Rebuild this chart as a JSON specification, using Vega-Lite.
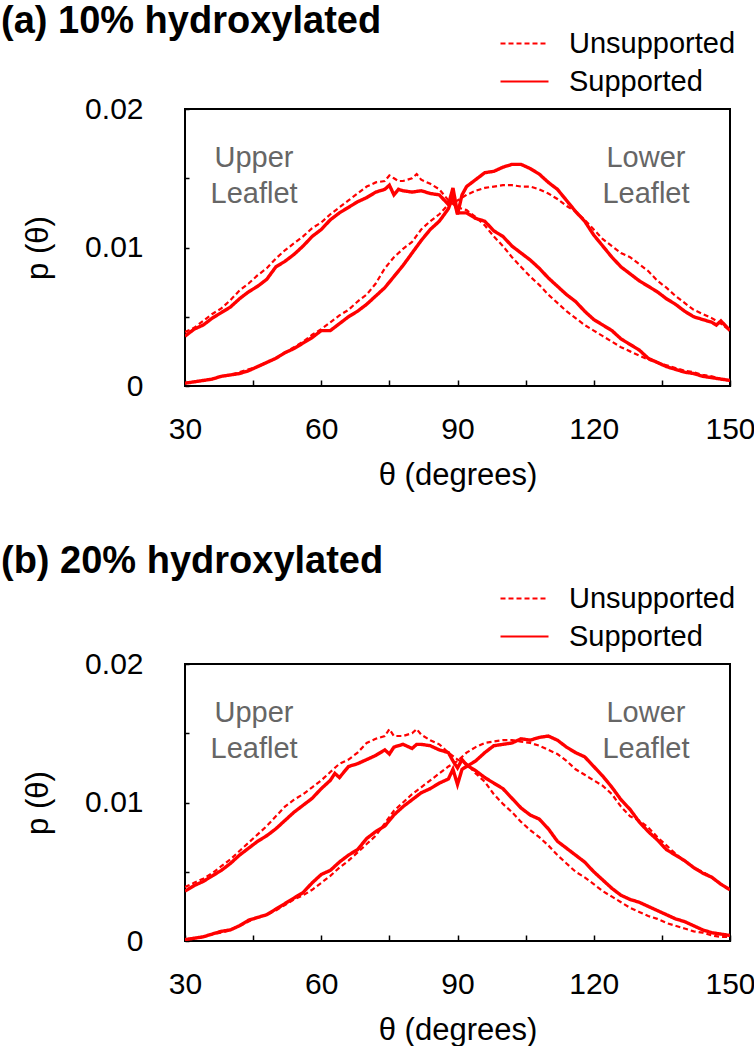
{
  "$schema": "https://vega.github.io/schema/vega-lite/v6.json",
  "padding": {"left": 0, "top": 2, "right": 0, "bottom": 0},
  "spacing": 51,
  "resolve": {"legend": {"strokeDash": "independent"}},
  "config": {
    "font": "Liberation Sans",
    "view": {"stroke": "#000", "strokeWidth": 2},
    "axis": {"domain": false, "grid": false, "labelFontSize": 30, "titleFontSize": 31, "titleFontWeight": "normal", "labelColor": "#000", "titleColor": "#000", "tickColor": "#000", "tickWidth": 1.5, "labelFont": "Liberation Sans", "titleFont": "Liberation Sans"},
    "legend": {"labelFont": "Liberation Sans", "labelColor": "#000"},
    "title": {"font": "Liberation Sans", "color": "#000"}
  },
  "datasets": {
    "a": [
      {"l":"U","s":"Supported","t":30,"p":0.0036},{"l":"U","s":"Supported","t":32,"p":0.0041},{"l":"U","s":"Supported","t":34,"p":0.0044},{"l":"U","s":"Supported","t":36,"p":0.0049},{"l":"U","s":"Supported","t":38,"p":0.0053},{"l":"U","s":"Supported","t":40,"p":0.0057},{"l":"U","s":"Supported","t":42,"p":0.0063},{"l":"U","s":"Supported","t":44,"p":0.0068},{"l":"U","s":"Supported","t":46,"p":0.0072},{"l":"U","s":"Supported","t":48,"p":0.0077},{"l":"U","s":"Supported","t":50,"p":0.0086},{"l":"U","s":"Supported","t":52,"p":0.0090},{"l":"U","s":"Supported","t":54,"p":0.0095},{"l":"U","s":"Supported","t":56,"p":0.0101},{"l":"U","s":"Supported","t":58,"p":0.0108},{"l":"U","s":"Supported","t":60,"p":0.0113},{"l":"U","s":"Supported","t":62,"p":0.0120},{"l":"U","s":"Supported","t":64,"p":0.0125},{"l":"U","s":"Supported","t":66,"p":0.0129},{"l":"U","s":"Supported","t":68,"p":0.0133},{"l":"U","s":"Supported","t":70,"p":0.0136},{"l":"U","s":"Supported","t":72,"p":0.0140},{"l":"U","s":"Supported","t":74,"p":0.0142},{"l":"U","s":"Supported","t":75,"p":0.0145},{"l":"U","s":"Supported","t":76,"p":0.0138},{"l":"U","s":"Supported","t":77,"p":0.0142},{"l":"U","s":"Supported","t":78,"p":0.0141},{"l":"U","s":"Supported","t":80,"p":0.0140},{"l":"U","s":"Supported","t":82,"p":0.0141},{"l":"U","s":"Supported","t":84,"p":0.0139},{"l":"U","s":"Supported","t":86,"p":0.0138},{"l":"U","s":"Supported","t":88,"p":0.0131},{"l":"U","s":"Supported","t":89,"p":0.0143},{"l":"U","s":"Supported","t":90,"p":0.0125},{"l":"U","s":"Supported","t":92,"p":0.0125},{"l":"U","s":"Supported","t":94,"p":0.0121},{"l":"U","s":"Supported","t":96,"p":0.0119},{"l":"U","s":"Supported","t":98,"p":0.0112},{"l":"U","s":"Supported","t":100,"p":0.0108},{"l":"U","s":"Supported","t":102,"p":0.0101},{"l":"U","s":"Supported","t":104,"p":0.0096},{"l":"U","s":"Supported","t":106,"p":0.0091},{"l":"U","s":"Supported","t":108,"p":0.0085},{"l":"U","s":"Supported","t":110,"p":0.0078},{"l":"U","s":"Supported","t":112,"p":0.0072},{"l":"U","s":"Supported","t":114,"p":0.0066},{"l":"U","s":"Supported","t":116,"p":0.0061},{"l":"U","s":"Supported","t":118,"p":0.0054},{"l":"U","s":"Supported","t":120,"p":0.0048},{"l":"U","s":"Supported","t":122,"p":0.0044},{"l":"U","s":"Supported","t":124,"p":0.0040},{"l":"U","s":"Supported","t":126,"p":0.0034},{"l":"U","s":"Supported","t":128,"p":0.0030},{"l":"U","s":"Supported","t":130,"p":0.0026},{"l":"U","s":"Supported","t":132,"p":0.0020},{"l":"U","s":"Supported","t":134,"p":0.0017},{"l":"U","s":"Supported","t":136,"p":0.0014},{"l":"U","s":"Supported","t":138,"p":0.0012},{"l":"U","s":"Supported","t":140,"p":0.0010},{"l":"U","s":"Supported","t":142,"p":0.0009},{"l":"U","s":"Supported","t":144,"p":0.0007},{"l":"U","s":"Supported","t":146,"p":0.0006},{"l":"U","s":"Supported","t":148,"p":0.0005},{"l":"U","s":"Supported","t":150,"p":0.0004},
      {"l":"U","s":"Unsupported","t":30,"p":0.0039},{"l":"U","s":"Unsupported","t":32,"p":0.0042},{"l":"U","s":"Unsupported","t":34,"p":0.0047},{"l":"U","s":"Unsupported","t":36,"p":0.0052},{"l":"U","s":"Unsupported","t":38,"p":0.0056},{"l":"U","s":"Unsupported","t":40,"p":0.0062},{"l":"U","s":"Unsupported","t":42,"p":0.0069},{"l":"U","s":"Unsupported","t":44,"p":0.0074},{"l":"U","s":"Unsupported","t":46,"p":0.0080},{"l":"U","s":"Unsupported","t":48,"p":0.0085},{"l":"U","s":"Unsupported","t":50,"p":0.0092},{"l":"U","s":"Unsupported","t":52,"p":0.0098},{"l":"U","s":"Unsupported","t":54,"p":0.0103},{"l":"U","s":"Unsupported","t":56,"p":0.0108},{"l":"U","s":"Unsupported","t":58,"p":0.0114},{"l":"U","s":"Unsupported","t":60,"p":0.0118},{"l":"U","s":"Unsupported","t":62,"p":0.0124},{"l":"U","s":"Unsupported","t":64,"p":0.0129},{"l":"U","s":"Unsupported","t":66,"p":0.0134},{"l":"U","s":"Unsupported","t":68,"p":0.0139},{"l":"U","s":"Unsupported","t":70,"p":0.0144},{"l":"U","s":"Unsupported","t":72,"p":0.0147},{"l":"U","s":"Unsupported","t":74,"p":0.0148},{"l":"U","s":"Unsupported","t":75,"p":0.0152},{"l":"U","s":"Unsupported","t":76,"p":0.0150},{"l":"U","s":"Unsupported","t":77,"p":0.0148},{"l":"U","s":"Unsupported","t":78,"p":0.0148},{"l":"U","s":"Unsupported","t":80,"p":0.0150},{"l":"U","s":"Unsupported","t":81,"p":0.0153},{"l":"U","s":"Unsupported","t":82,"p":0.0149},{"l":"U","s":"Unsupported","t":84,"p":0.0146},{"l":"U","s":"Unsupported","t":86,"p":0.0142},{"l":"U","s":"Unsupported","t":88,"p":0.0134},{"l":"U","s":"Unsupported","t":90,"p":0.0129},{"l":"U","s":"Unsupported","t":92,"p":0.0127},{"l":"U","s":"Unsupported","t":94,"p":0.0122},{"l":"U","s":"Unsupported","t":96,"p":0.0116},{"l":"U","s":"Unsupported","t":98,"p":0.0108},{"l":"U","s":"Unsupported","t":100,"p":0.0101},{"l":"U","s":"Unsupported","t":102,"p":0.0093},{"l":"U","s":"Unsupported","t":104,"p":0.0086},{"l":"U","s":"Unsupported","t":106,"p":0.0079},{"l":"U","s":"Unsupported","t":108,"p":0.0073},{"l":"U","s":"Unsupported","t":110,"p":0.0066},{"l":"U","s":"Unsupported","t":112,"p":0.0060},{"l":"U","s":"Unsupported","t":114,"p":0.0054},{"l":"U","s":"Unsupported","t":116,"p":0.0049},{"l":"U","s":"Unsupported","t":118,"p":0.0044},{"l":"U","s":"Unsupported","t":120,"p":0.0040},{"l":"U","s":"Unsupported","t":122,"p":0.0036},{"l":"U","s":"Unsupported","t":124,"p":0.0032},{"l":"U","s":"Unsupported","t":126,"p":0.0028},{"l":"U","s":"Unsupported","t":128,"p":0.0025},{"l":"U","s":"Unsupported","t":130,"p":0.0022},{"l":"U","s":"Unsupported","t":132,"p":0.0019},{"l":"U","s":"Unsupported","t":134,"p":0.0017},{"l":"U","s":"Unsupported","t":136,"p":0.0015},{"l":"U","s":"Unsupported","t":138,"p":0.0013},{"l":"U","s":"Unsupported","t":140,"p":0.0011},{"l":"U","s":"Unsupported","t":142,"p":0.0010},{"l":"U","s":"Unsupported","t":144,"p":0.0008},{"l":"U","s":"Unsupported","t":146,"p":0.0007},{"l":"U","s":"Unsupported","t":148,"p":0.0005},{"l":"U","s":"Unsupported","t":150,"p":0.0004},
      {"l":"L","s":"Supported","t":30,"p":0.0002},{"l":"L","s":"Supported","t":32,"p":0.0003},{"l":"L","s":"Supported","t":34,"p":0.0004},{"l":"L","s":"Supported","t":36,"p":0.0005},{"l":"L","s":"Supported","t":38,"p":0.0007},{"l":"L","s":"Supported","t":40,"p":0.0008},{"l":"L","s":"Supported","t":42,"p":0.0009},{"l":"L","s":"Supported","t":44,"p":0.0011},{"l":"L","s":"Supported","t":46,"p":0.0014},{"l":"L","s":"Supported","t":48,"p":0.0017},{"l":"L","s":"Supported","t":50,"p":0.0020},{"l":"L","s":"Supported","t":52,"p":0.0024},{"l":"L","s":"Supported","t":54,"p":0.0027},{"l":"L","s":"Supported","t":56,"p":0.0031},{"l":"L","s":"Supported","t":58,"p":0.0035},{"l":"L","s":"Supported","t":60,"p":0.0040},{"l":"L","s":"Supported","t":62,"p":0.0040},{"l":"L","s":"Supported","t":64,"p":0.0045},{"l":"L","s":"Supported","t":66,"p":0.0050},{"l":"L","s":"Supported","t":68,"p":0.0054},{"l":"L","s":"Supported","t":70,"p":0.0059},{"l":"L","s":"Supported","t":72,"p":0.0065},{"l":"L","s":"Supported","t":74,"p":0.0071},{"l":"L","s":"Supported","t":76,"p":0.0079},{"l":"L","s":"Supported","t":78,"p":0.0087},{"l":"L","s":"Supported","t":80,"p":0.0096},{"l":"L","s":"Supported","t":82,"p":0.0105},{"l":"L","s":"Supported","t":84,"p":0.0113},{"l":"L","s":"Supported","t":86,"p":0.0119},{"l":"L","s":"Supported","t":88,"p":0.0128},{"l":"L","s":"Supported","t":89,"p":0.0137},{"l":"L","s":"Supported","t":90,"p":0.0124},{"l":"L","s":"Supported","t":91,"p":0.0138},{"l":"L","s":"Supported","t":92,"p":0.0144},{"l":"L","s":"Supported","t":94,"p":0.0149},{"l":"L","s":"Supported","t":96,"p":0.0154},{"l":"L","s":"Supported","t":98,"p":0.0155},{"l":"L","s":"Supported","t":100,"p":0.0158},{"l":"L","s":"Supported","t":102,"p":0.0160},{"l":"L","s":"Supported","t":104,"p":0.0160},{"l":"L","s":"Supported","t":106,"p":0.0157},{"l":"L","s":"Supported","t":108,"p":0.0153},{"l":"L","s":"Supported","t":110,"p":0.0147},{"l":"L","s":"Supported","t":112,"p":0.0142},{"l":"L","s":"Supported","t":114,"p":0.0134},{"l":"L","s":"Supported","t":116,"p":0.0126},{"l":"L","s":"Supported","t":118,"p":0.0119},{"l":"L","s":"Supported","t":120,"p":0.0109},{"l":"L","s":"Supported","t":122,"p":0.0101},{"l":"L","s":"Supported","t":124,"p":0.0093},{"l":"L","s":"Supported","t":126,"p":0.0086},{"l":"L","s":"Supported","t":128,"p":0.0081},{"l":"L","s":"Supported","t":130,"p":0.0076},{"l":"L","s":"Supported","t":132,"p":0.0072},{"l":"L","s":"Supported","t":134,"p":0.0068},{"l":"L","s":"Supported","t":136,"p":0.0063},{"l":"L","s":"Supported","t":138,"p":0.0059},{"l":"L","s":"Supported","t":140,"p":0.0054},{"l":"L","s":"Supported","t":142,"p":0.0050},{"l":"L","s":"Supported","t":144,"p":0.0048},{"l":"L","s":"Supported","t":146,"p":0.0046},{"l":"L","s":"Supported","t":147,"p":0.0044},{"l":"L","s":"Supported","t":148,"p":0.0047},{"l":"L","s":"Supported","t":150,"p":0.0040},
      {"l":"L","s":"Unsupported","t":30,"p":0.0002},{"l":"L","s":"Unsupported","t":32,"p":0.0003},{"l":"L","s":"Unsupported","t":34,"p":0.0004},{"l":"L","s":"Unsupported","t":36,"p":0.0005},{"l":"L","s":"Unsupported","t":38,"p":0.0007},{"l":"L","s":"Unsupported","t":40,"p":0.0008},{"l":"L","s":"Unsupported","t":42,"p":0.0010},{"l":"L","s":"Unsupported","t":44,"p":0.0012},{"l":"L","s":"Unsupported","t":46,"p":0.0014},{"l":"L","s":"Unsupported","t":48,"p":0.0017},{"l":"L","s":"Unsupported","t":50,"p":0.0020},{"l":"L","s":"Unsupported","t":52,"p":0.0024},{"l":"L","s":"Unsupported","t":54,"p":0.0028},{"l":"L","s":"Unsupported","t":56,"p":0.0032},{"l":"L","s":"Unsupported","t":58,"p":0.0037},{"l":"L","s":"Unsupported","t":60,"p":0.0041},{"l":"L","s":"Unsupported","t":62,"p":0.0046},{"l":"L","s":"Unsupported","t":64,"p":0.0051},{"l":"L","s":"Unsupported","t":66,"p":0.0055},{"l":"L","s":"Unsupported","t":68,"p":0.0061},{"l":"L","s":"Unsupported","t":70,"p":0.0066},{"l":"L","s":"Unsupported","t":72,"p":0.0074},{"l":"L","s":"Unsupported","t":74,"p":0.0085},{"l":"L","s":"Unsupported","t":76,"p":0.0093},{"l":"L","s":"Unsupported","t":78,"p":0.0099},{"l":"L","s":"Unsupported","t":80,"p":0.0104},{"l":"L","s":"Unsupported","t":82,"p":0.0113},{"l":"L","s":"Unsupported","t":84,"p":0.0119},{"l":"L","s":"Unsupported","t":86,"p":0.0124},{"l":"L","s":"Unsupported","t":88,"p":0.0131},{"l":"L","s":"Unsupported","t":90,"p":0.0134},{"l":"L","s":"Unsupported","t":92,"p":0.0138},{"l":"L","s":"Unsupported","t":94,"p":0.0141},{"l":"L","s":"Unsupported","t":96,"p":0.0143},{"l":"L","s":"Unsupported","t":98,"p":0.0144},{"l":"L","s":"Unsupported","t":100,"p":0.0145},{"l":"L","s":"Unsupported","t":102,"p":0.0145},{"l":"L","s":"Unsupported","t":104,"p":0.0144},{"l":"L","s":"Unsupported","t":106,"p":0.0144},{"l":"L","s":"Unsupported","t":108,"p":0.0142},{"l":"L","s":"Unsupported","t":110,"p":0.0139},{"l":"L","s":"Unsupported","t":112,"p":0.0135},{"l":"L","s":"Unsupported","t":114,"p":0.0130},{"l":"L","s":"Unsupported","t":116,"p":0.0126},{"l":"L","s":"Unsupported","t":118,"p":0.0120},{"l":"L","s":"Unsupported","t":120,"p":0.0113},{"l":"L","s":"Unsupported","t":122,"p":0.0106},{"l":"L","s":"Unsupported","t":124,"p":0.0101},{"l":"L","s":"Unsupported","t":126,"p":0.0096},{"l":"L","s":"Unsupported","t":128,"p":0.0093},{"l":"L","s":"Unsupported","t":130,"p":0.0088},{"l":"L","s":"Unsupported","t":132,"p":0.0083},{"l":"L","s":"Unsupported","t":134,"p":0.0076},{"l":"L","s":"Unsupported","t":136,"p":0.0071},{"l":"L","s":"Unsupported","t":138,"p":0.0065},{"l":"L","s":"Unsupported","t":140,"p":0.0060},{"l":"L","s":"Unsupported","t":142,"p":0.0055},{"l":"L","s":"Unsupported","t":144,"p":0.0052},{"l":"L","s":"Unsupported","t":146,"p":0.0049},{"l":"L","s":"Unsupported","t":148,"p":0.0045},{"l":"L","s":"Unsupported","t":150,"p":0.0040}
    ],
    "b": [
      {"l":"U","s":"Supported","t":30,"p":0.0036},{"l":"U","s":"Supported","t":32,"p":0.0040},{"l":"U","s":"Supported","t":34,"p":0.0043},{"l":"U","s":"Supported","t":36,"p":0.0047},{"l":"U","s":"Supported","t":38,"p":0.0051},{"l":"U","s":"Supported","t":40,"p":0.0056},{"l":"U","s":"Supported","t":42,"p":0.0062},{"l":"U","s":"Supported","t":44,"p":0.0067},{"l":"U","s":"Supported","t":46,"p":0.0072},{"l":"U","s":"Supported","t":48,"p":0.0076},{"l":"U","s":"Supported","t":50,"p":0.0081},{"l":"U","s":"Supported","t":52,"p":0.0087},{"l":"U","s":"Supported","t":54,"p":0.0093},{"l":"U","s":"Supported","t":56,"p":0.0098},{"l":"U","s":"Supported","t":58,"p":0.0103},{"l":"U","s":"Supported","t":60,"p":0.0110},{"l":"U","s":"Supported","t":62,"p":0.0116},{"l":"U","s":"Supported","t":63,"p":0.0121},{"l":"U","s":"Supported","t":64,"p":0.0118},{"l":"U","s":"Supported","t":66,"p":0.0126},{"l":"U","s":"Supported","t":68,"p":0.0128},{"l":"U","s":"Supported","t":70,"p":0.0131},{"l":"U","s":"Supported","t":72,"p":0.0134},{"l":"U","s":"Supported","t":74,"p":0.0138},{"l":"U","s":"Supported","t":75,"p":0.0135},{"l":"U","s":"Supported","t":76,"p":0.0140},{"l":"U","s":"Supported","t":78,"p":0.0142},{"l":"U","s":"Supported","t":80,"p":0.0139},{"l":"U","s":"Supported","t":81,"p":0.0142},{"l":"U","s":"Supported","t":82,"p":0.0142},{"l":"U","s":"Supported","t":84,"p":0.0141},{"l":"U","s":"Supported","t":86,"p":0.0138},{"l":"U","s":"Supported","t":88,"p":0.0136},{"l":"U","s":"Supported","t":89,"p":0.0130},{"l":"U","s":"Supported","t":90,"p":0.0125},{"l":"U","s":"Supported","t":91,"p":0.0131},{"l":"U","s":"Supported","t":92,"p":0.0127},{"l":"U","s":"Supported","t":94,"p":0.0123},{"l":"U","s":"Supported","t":96,"p":0.0118},{"l":"U","s":"Supported","t":98,"p":0.0114},{"l":"U","s":"Supported","t":100,"p":0.0110},{"l":"U","s":"Supported","t":102,"p":0.0103},{"l":"U","s":"Supported","t":104,"p":0.0096},{"l":"U","s":"Supported","t":106,"p":0.0091},{"l":"U","s":"Supported","t":108,"p":0.0088},{"l":"U","s":"Supported","t":110,"p":0.0081},{"l":"U","s":"Supported","t":112,"p":0.0072},{"l":"U","s":"Supported","t":114,"p":0.0067},{"l":"U","s":"Supported","t":116,"p":0.0062},{"l":"U","s":"Supported","t":118,"p":0.0057},{"l":"U","s":"Supported","t":120,"p":0.0050},{"l":"U","s":"Supported","t":122,"p":0.0044},{"l":"U","s":"Supported","t":124,"p":0.0038},{"l":"U","s":"Supported","t":126,"p":0.0033},{"l":"U","s":"Supported","t":128,"p":0.0030},{"l":"U","s":"Supported","t":130,"p":0.0028},{"l":"U","s":"Supported","t":132,"p":0.0025},{"l":"U","s":"Supported","t":134,"p":0.0022},{"l":"U","s":"Supported","t":136,"p":0.0019},{"l":"U","s":"Supported","t":138,"p":0.0016},{"l":"U","s":"Supported","t":140,"p":0.0014},{"l":"U","s":"Supported","t":142,"p":0.0011},{"l":"U","s":"Supported","t":144,"p":0.0008},{"l":"U","s":"Supported","t":146,"p":0.0006},{"l":"U","s":"Supported","t":148,"p":0.0005},{"l":"U","s":"Supported","t":150,"p":0.0004},
      {"l":"U","s":"Unsupported","t":30,"p":0.0039},{"l":"U","s":"Unsupported","t":32,"p":0.0042},{"l":"U","s":"Unsupported","t":34,"p":0.0045},{"l":"U","s":"Unsupported","t":36,"p":0.0049},{"l":"U","s":"Unsupported","t":38,"p":0.0054},{"l":"U","s":"Unsupported","t":40,"p":0.0059},{"l":"U","s":"Unsupported","t":42,"p":0.0065},{"l":"U","s":"Unsupported","t":44,"p":0.0071},{"l":"U","s":"Unsupported","t":46,"p":0.0077},{"l":"U","s":"Unsupported","t":48,"p":0.0083},{"l":"U","s":"Unsupported","t":50,"p":0.0090},{"l":"U","s":"Unsupported","t":52,"p":0.0097},{"l":"U","s":"Unsupported","t":54,"p":0.0102},{"l":"U","s":"Unsupported","t":56,"p":0.0106},{"l":"U","s":"Unsupported","t":58,"p":0.0111},{"l":"U","s":"Unsupported","t":60,"p":0.0116},{"l":"U","s":"Unsupported","t":62,"p":0.0122},{"l":"U","s":"Unsupported","t":64,"p":0.0128},{"l":"U","s":"Unsupported","t":66,"p":0.0131},{"l":"U","s":"Unsupported","t":68,"p":0.0136},{"l":"U","s":"Unsupported","t":70,"p":0.0143},{"l":"U","s":"Unsupported","t":72,"p":0.0146},{"l":"U","s":"Unsupported","t":74,"p":0.0148},{"l":"U","s":"Unsupported","t":75,"p":0.0153},{"l":"U","s":"Unsupported","t":76,"p":0.0148},{"l":"U","s":"Unsupported","t":78,"p":0.0148},{"l":"U","s":"Unsupported","t":80,"p":0.0150},{"l":"U","s":"Unsupported","t":81,"p":0.0153},{"l":"U","s":"Unsupported","t":82,"p":0.0149},{"l":"U","s":"Unsupported","t":84,"p":0.0145},{"l":"U","s":"Unsupported","t":86,"p":0.0142},{"l":"U","s":"Unsupported","t":88,"p":0.0136},{"l":"U","s":"Unsupported","t":90,"p":0.0131},{"l":"U","s":"Unsupported","t":92,"p":0.0128},{"l":"U","s":"Unsupported","t":94,"p":0.0121},{"l":"U","s":"Unsupported","t":96,"p":0.0115},{"l":"U","s":"Unsupported","t":98,"p":0.0106},{"l":"U","s":"Unsupported","t":100,"p":0.0099},{"l":"U","s":"Unsupported","t":102,"p":0.0093},{"l":"U","s":"Unsupported","t":104,"p":0.0086},{"l":"U","s":"Unsupported","t":106,"p":0.0080},{"l":"U","s":"Unsupported","t":108,"p":0.0075},{"l":"U","s":"Unsupported","t":110,"p":0.0069},{"l":"U","s":"Unsupported","t":112,"p":0.0062},{"l":"U","s":"Unsupported","t":114,"p":0.0056},{"l":"U","s":"Unsupported","t":116,"p":0.0050},{"l":"U","s":"Unsupported","t":118,"p":0.0046},{"l":"U","s":"Unsupported","t":120,"p":0.0041},{"l":"U","s":"Unsupported","t":122,"p":0.0036},{"l":"U","s":"Unsupported","t":124,"p":0.0032},{"l":"U","s":"Unsupported","t":126,"p":0.0028},{"l":"U","s":"Unsupported","t":128,"p":0.0024},{"l":"U","s":"Unsupported","t":130,"p":0.0021},{"l":"U","s":"Unsupported","t":132,"p":0.0018},{"l":"U","s":"Unsupported","t":134,"p":0.0016},{"l":"U","s":"Unsupported","t":136,"p":0.0013},{"l":"U","s":"Unsupported","t":138,"p":0.0011},{"l":"U","s":"Unsupported","t":140,"p":0.0009},{"l":"U","s":"Unsupported","t":142,"p":0.0007},{"l":"U","s":"Unsupported","t":144,"p":0.0006},{"l":"U","s":"Unsupported","t":146,"p":0.0004},{"l":"U","s":"Unsupported","t":148,"p":0.0003},{"l":"U","s":"Unsupported","t":150,"p":0.0003},
      {"l":"L","s":"Supported","t":30,"p":0.0001},{"l":"L","s":"Supported","t":32,"p":0.0002},{"l":"L","s":"Supported","t":34,"p":0.0003},{"l":"L","s":"Supported","t":36,"p":0.0005},{"l":"L","s":"Supported","t":38,"p":0.0007},{"l":"L","s":"Supported","t":40,"p":0.0008},{"l":"L","s":"Supported","t":42,"p":0.0011},{"l":"L","s":"Supported","t":44,"p":0.0015},{"l":"L","s":"Supported","t":46,"p":0.0017},{"l":"L","s":"Supported","t":48,"p":0.0019},{"l":"L","s":"Supported","t":50,"p":0.0023},{"l":"L","s":"Supported","t":52,"p":0.0027},{"l":"L","s":"Supported","t":54,"p":0.0031},{"l":"L","s":"Supported","t":56,"p":0.0035},{"l":"L","s":"Supported","t":58,"p":0.0042},{"l":"L","s":"Supported","t":60,"p":0.0048},{"l":"L","s":"Supported","t":62,"p":0.0051},{"l":"L","s":"Supported","t":64,"p":0.0057},{"l":"L","s":"Supported","t":66,"p":0.0062},{"l":"L","s":"Supported","t":68,"p":0.0066},{"l":"L","s":"Supported","t":70,"p":0.0074},{"l":"L","s":"Supported","t":72,"p":0.0079},{"l":"L","s":"Supported","t":74,"p":0.0083},{"l":"L","s":"Supported","t":76,"p":0.0091},{"l":"L","s":"Supported","t":78,"p":0.0097},{"l":"L","s":"Supported","t":80,"p":0.0102},{"l":"L","s":"Supported","t":82,"p":0.0107},{"l":"L","s":"Supported","t":84,"p":0.0110},{"l":"L","s":"Supported","t":86,"p":0.0114},{"l":"L","s":"Supported","t":88,"p":0.0117},{"l":"L","s":"Supported","t":89,"p":0.0124},{"l":"L","s":"Supported","t":90,"p":0.0113},{"l":"L","s":"Supported","t":91,"p":0.0124},{"l":"L","s":"Supported","t":92,"p":0.0126},{"l":"L","s":"Supported","t":94,"p":0.0130},{"l":"L","s":"Supported","t":96,"p":0.0136},{"l":"L","s":"Supported","t":98,"p":0.0141},{"l":"L","s":"Supported","t":100,"p":0.0142},{"l":"L","s":"Supported","t":102,"p":0.0143},{"l":"L","s":"Supported","t":104,"p":0.0146},{"l":"L","s":"Supported","t":106,"p":0.0145},{"l":"L","s":"Supported","t":108,"p":0.0147},{"l":"L","s":"Supported","t":110,"p":0.0148},{"l":"L","s":"Supported","t":112,"p":0.0145},{"l":"L","s":"Supported","t":114,"p":0.0140},{"l":"L","s":"Supported","t":116,"p":0.0136},{"l":"L","s":"Supported","t":118,"p":0.0133},{"l":"L","s":"Supported","t":120,"p":0.0126},{"l":"L","s":"Supported","t":122,"p":0.0119},{"l":"L","s":"Supported","t":124,"p":0.0111},{"l":"L","s":"Supported","t":126,"p":0.0102},{"l":"L","s":"Supported","t":128,"p":0.0095},{"l":"L","s":"Supported","t":130,"p":0.0086},{"l":"L","s":"Supported","t":132,"p":0.0079},{"l":"L","s":"Supported","t":134,"p":0.0073},{"l":"L","s":"Supported","t":136,"p":0.0066},{"l":"L","s":"Supported","t":138,"p":0.0062},{"l":"L","s":"Supported","t":140,"p":0.0058},{"l":"L","s":"Supported","t":142,"p":0.0053},{"l":"L","s":"Supported","t":144,"p":0.0049},{"l":"L","s":"Supported","t":146,"p":0.0046},{"l":"L","s":"Supported","t":148,"p":0.0041},{"l":"L","s":"Supported","t":150,"p":0.0037},
      {"l":"L","s":"Unsupported","t":30,"p":0.0001},{"l":"L","s":"Unsupported","t":32,"p":0.0002},{"l":"L","s":"Unsupported","t":34,"p":0.0003},{"l":"L","s":"Unsupported","t":36,"p":0.0005},{"l":"L","s":"Unsupported","t":38,"p":0.0006},{"l":"L","s":"Unsupported","t":40,"p":0.0008},{"l":"L","s":"Unsupported","t":42,"p":0.0011},{"l":"L","s":"Unsupported","t":44,"p":0.0014},{"l":"L","s":"Unsupported","t":46,"p":0.0017},{"l":"L","s":"Unsupported","t":48,"p":0.0019},{"l":"L","s":"Unsupported","t":50,"p":0.0022},{"l":"L","s":"Unsupported","t":52,"p":0.0026},{"l":"L","s":"Unsupported","t":54,"p":0.0030},{"l":"L","s":"Unsupported","t":56,"p":0.0033},{"l":"L","s":"Unsupported","t":58,"p":0.0037},{"l":"L","s":"Unsupported","t":60,"p":0.0042},{"l":"L","s":"Unsupported","t":62,"p":0.0047},{"l":"L","s":"Unsupported","t":64,"p":0.0053},{"l":"L","s":"Unsupported","t":66,"p":0.0058},{"l":"L","s":"Unsupported","t":68,"p":0.0064},{"l":"L","s":"Unsupported","t":70,"p":0.0070},{"l":"L","s":"Unsupported","t":72,"p":0.0076},{"l":"L","s":"Unsupported","t":74,"p":0.0085},{"l":"L","s":"Unsupported","t":76,"p":0.0094},{"l":"L","s":"Unsupported","t":78,"p":0.0100},{"l":"L","s":"Unsupported","t":80,"p":0.0106},{"l":"L","s":"Unsupported","t":82,"p":0.0111},{"l":"L","s":"Unsupported","t":84,"p":0.0116},{"l":"L","s":"Unsupported","t":86,"p":0.0121},{"l":"L","s":"Unsupported","t":88,"p":0.0126},{"l":"L","s":"Unsupported","t":90,"p":0.0130},{"l":"L","s":"Unsupported","t":92,"p":0.0136},{"l":"L","s":"Unsupported","t":94,"p":0.0140},{"l":"L","s":"Unsupported","t":96,"p":0.0143},{"l":"L","s":"Unsupported","t":98,"p":0.0144},{"l":"L","s":"Unsupported","t":100,"p":0.0145},{"l":"L","s":"Unsupported","t":102,"p":0.0145},{"l":"L","s":"Unsupported","t":104,"p":0.0144},{"l":"L","s":"Unsupported","t":106,"p":0.0143},{"l":"L","s":"Unsupported","t":108,"p":0.0141},{"l":"L","s":"Unsupported","t":110,"p":0.0138},{"l":"L","s":"Unsupported","t":112,"p":0.0135},{"l":"L","s":"Unsupported","t":114,"p":0.0130},{"l":"L","s":"Unsupported","t":116,"p":0.0124},{"l":"L","s":"Unsupported","t":118,"p":0.0120},{"l":"L","s":"Unsupported","t":120,"p":0.0116},{"l":"L","s":"Unsupported","t":122,"p":0.0112},{"l":"L","s":"Unsupported","t":124,"p":0.0106},{"l":"L","s":"Unsupported","t":126,"p":0.0097},{"l":"L","s":"Unsupported","t":128,"p":0.0090},{"l":"L","s":"Unsupported","t":130,"p":0.0087},{"l":"L","s":"Unsupported","t":132,"p":0.0082},{"l":"L","s":"Unsupported","t":134,"p":0.0075},{"l":"L","s":"Unsupported","t":136,"p":0.0069},{"l":"L","s":"Unsupported","t":138,"p":0.0063},{"l":"L","s":"Unsupported","t":140,"p":0.0058},{"l":"L","s":"Unsupported","t":142,"p":0.0053},{"l":"L","s":"Unsupported","t":144,"p":0.0050},{"l":"L","s":"Unsupported","t":146,"p":0.0046},{"l":"L","s":"Unsupported","t":148,"p":0.0041},{"l":"L","s":"Unsupported","t":150,"p":0.0037}
    ],
    "notes": [
      {"t":45.2,"p":0.01645,"txt":"Upper"},{"t":45.2,"p":0.01385,"txt":"Leaflet"},
      {"t":131.5,"p":0.01645,"txt":"Lower"},{"t":131.5,"p":0.01385,"txt":"Leaflet"}
    ]
  },
  "vconcat": [
    {
      "width": 545, "height": 277,
      "title": {"text": "(a) 10% hydroxylated", "anchor": "start", "frame": "group", "dx": -184, "fontSize": 38, "fontWeight": "bold", "offset": -12},
      "layer": [
        {
          "data": {"name": "a"},
          "mark": {"type": "line", "color": "#ff0000", "clip": true},
          "encoding": {
            "x": {"field": "t", "type": "quantitative", "scale": {"domain": [30, 150], "nice": false, "zero": false},
              "axis": {"values": [30,45,60,75,90,105,120,135,150], "labelExpr": "datum.value % 30 == 0 ? datum.label : ''", "tickSize": -6, "labelPadding": 34, "labelFlush": false, "labelOverlap": false, "title": "θ (degrees)", "titlePadding": 16}},
            "y": {"field": "p", "type": "quantitative", "scale": {"domain": [0, 0.02], "nice": false, "zero": false},
              "axis": {"values": [0,0.005,0.01,0.015,0.02], "labelExpr": "datum.value == 0 ? '0' : (datum.value == 0.01 ? '0.01' : (datum.value == 0.02 ? '0.02' : ''))", "tickSize": -4, "labelPadding": 46, "labelFlush": false, "labelOverlap": false, "title": "p (θ)", "titlePadding": 30}},
            "detail": {"field": "l", "type": "nominal"},
            "strokeDash": {"field": "s", "type": "nominal", "scale": {"domain": ["Unsupported", "Supported"], "range": [[5, 3], [1, 0]]},
              "legend": {"title": null, "orient": "none", "legendX": 325, "legendY": -80, "symbolType": "M-2,0H2", "symbolSize": 576, "symbolStrokeColor": "#ff0000", "symbolStrokeWidth": 2, "labelFontSize": 29, "labelLimit": 400, "labelOffset": 30, "rowPadding": 8, "padding": 0}},
            "strokeWidth": {"field": "s", "type": "ordinal", "scale": {"domain": ["Unsupported", "Supported"], "range": [2.2, 3.4]}, "legend": null}
          }
        },
        {
          "data": {"name": "notes"},
          "mark": {"type": "text", "fontSize": 29, "color": "#666666", "align": "center", "baseline": "middle"},
          "encoding": {
            "x": {"field": "t", "type": "quantitative"},
            "y": {"field": "p", "type": "quantitative"},
            "text": {"field": "txt", "type": "nominal"}
          }
        }
      ]
    },
    {
      "width": 545, "height": 277,
      "title": {"text": "(b) 20% hydroxylated", "anchor": "start", "frame": "group", "dx": -184, "fontSize": 38, "fontWeight": "bold", "offset": 3},
      "layer": [
        {
          "data": {"name": "b"},
          "mark": {"type": "line", "color": "#ff0000", "clip": true},
          "encoding": {
            "x": {"field": "t", "type": "quantitative", "scale": {"domain": [30, 150], "nice": false, "zero": false},
              "axis": {"values": [30,45,60,75,90,105,120,135,150], "labelExpr": "datum.value % 30 == 0 ? datum.label : ''", "tickSize": -6, "labelPadding": 34, "labelFlush": false, "labelOverlap": false, "title": "θ (degrees)", "titlePadding": 16}},
            "y": {"field": "p", "type": "quantitative", "scale": {"domain": [0, 0.02], "nice": false, "zero": false},
              "axis": {"values": [0,0.005,0.01,0.015,0.02], "labelExpr": "datum.value == 0 ? '0' : (datum.value == 0.01 ? '0.01' : (datum.value == 0.02 ? '0.02' : ''))", "tickSize": -4, "labelPadding": 46, "labelFlush": false, "labelOverlap": false, "title": "p (θ)", "titlePadding": 30}},
            "detail": {"field": "l", "type": "nominal"},
            "strokeDash": {"field": "s", "type": "nominal", "scale": {"domain": ["Unsupported", "Supported"], "range": [[5, 3], [1, 0]]},
              "legend": {"title": null, "orient": "none", "legendX": 325, "legendY": -80, "symbolType": "M-2,0H2", "symbolSize": 576, "symbolStrokeColor": "#ff0000", "symbolStrokeWidth": 2, "labelFontSize": 29, "labelLimit": 400, "labelOffset": 30, "rowPadding": 8, "padding": 0}},
            "strokeWidth": {"field": "s", "type": "ordinal", "scale": {"domain": ["Unsupported", "Supported"], "range": [2.2, 3.4]}, "legend": null}
          }
        },
        {
          "data": {"name": "notes"},
          "mark": {"type": "text", "fontSize": 29, "color": "#666666", "align": "center", "baseline": "middle"},
          "encoding": {
            "x": {"field": "t", "type": "quantitative"},
            "y": {"field": "p", "type": "quantitative"},
            "text": {"field": "txt", "type": "nominal"}
          }
        }
      ]
    }
  ]
}
